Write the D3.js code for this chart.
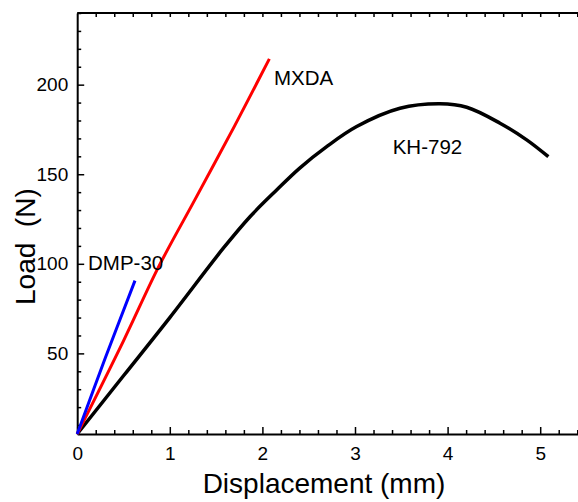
<!DOCTYPE html>
<html>
<head>
<meta charset="utf-8">
<script src="https://cdn.jsdelivr.net/npm/d3@7"></script>
<style>
  body { margin: 0; background: #fff; }
  text { font-family: "Liberation Sans", Arial, sans-serif; fill: #000; }
</style>
</head>
<body>
<div id="main"></div>
<script>
const ctx = {
    w: 578,
    h: 502,
    left: 77.2,
    top: 13,
    bottom: 434,
    pxPerMm: 92.6,
    TICK_FONT: "19px",
    LABEL_FONT: "20.5px",
    TITLE_FONT: "28px",
};

// series: displacement (mm) / load (N)
const kh792X = [0, 0.5, 1.0, 1.578, 1.866, 2.154, 2.40, 2.694, 3.018, 3.486, 3.918, 4.206, 4.566, 4.854, 5.088];
const kh792Y = [5, 37.5, 70, 108.7, 126.3, 141.2, 153.3, 165.4, 176.6, 186.8, 189.3, 187.4, 178.5, 169.2, 159.8];
const mxdaX = [0, 0.5, 0.88, 1.27, 1.7, 2.075];
const mxdaY = [5, 57, 98.4, 135.7, 177, 214.4];
const dmpX = [0, 0.3, 0.624];
const dmpY = [5, 47, 90.6];

const seriesNames = ["KH-792", "MXDA", "DMP-30"];
const seriesColors = ["#000000", "#ff0000", "#0000ff"];

const xTicks = [0, 1, 2, 3, 4, 5];
const yTicks = [50, 100, 150, 200];
const xDomain = [0, 5.45];
const yDomain = [5, 240];

function zipSeries(xs, ys) {
    return xs.map((x, i) => ({ x: x, y: ys[i] }));
}

function createViz() {
    let svgEl = d3.select("#main").append("svg")
        .attr("width", ctx.w)
        .attr("height", ctx.h);

    let x = d3.scaleLinear().domain(xDomain)
        .range([ctx.left, ctx.left + (xDomain[1] - xDomain[0]) * ctx.pxPerMm]);
    let y = d3.scaleLinear().domain(yDomain).range([ctx.bottom, ctx.top]);

    // minor ticks
    svgEl.append("g")
        .attr("transform", `translate(${ctx.left},0)`)
        .call(d3.axisLeft(y).tickValues(d3.range(10, 241, 10).filter(v => v % 50 != 0))
            .tickSize(-4).tickFormat(""))
        .call(g => g.select(".domain").remove());
    svgEl.append("g")
        .attr("transform", `translate(0,${ctx.bottom})`)
        .call(d3.axisBottom(x).tickValues(d3.range(0.2, 5.45, 0.2).filter(v => Math.abs(v - Math.round(v)) > 0.01))
            .tickSize(-4).tickFormat(""))
        .call(g => g.select(".domain").remove());
    svgEl.append("g")
        .attr("transform", `translate(0,${ctx.top})`)
        .call(d3.axisTop(x).tickValues(d3.range(0.2, 5.45, 0.2))
            .tickSize(-4).tickFormat(""))
        .call(g => g.select(".domain").remove());

    // major axes
    let yAxis = svgEl.append("g")
        .attr("transform", `translate(${ctx.left},0)`)
        .call(d3.axisLeft(y).tickValues(yTicks).tickSizeInner(-7).tickSizeOuter(0).tickPadding(9));
    let xAxis = svgEl.append("g")
        .attr("transform", `translate(0,${ctx.bottom})`)
        .call(d3.axisBottom(x).tickValues(xTicks).tickFormat(d3.format("d"))
            .tickSizeInner(-7).tickSizeOuter(0).tickPadding(13));
    [yAxis, xAxis].forEach(function (g) {
        g.selectAll("text").style("font-size", ctx.TICK_FONT)
            .style("font-family", "'Liberation Sans', Arial, sans-serif");
    });
    svgEl.selectAll(".tick line").attr("stroke", "#000").attr("stroke-width", 1.5);
    svgEl.selectAll(".domain").attr("stroke", "#000").attr("stroke-width", 2);

    // top frame line
    svgEl.append("line")
        .attr("x1", ctx.left).attr("x2", x(xDomain[1]))
        .attr("y1", ctx.top).attr("y2", ctx.top)
        .attr("stroke", "#000").attr("stroke-width", 2);

    // curves
    let line = d3.line().x(d => x(d.x)).y(d => y(d.y)).curve(d3.curveCatmullRom.alpha(0.5));
    let allSeries = [zipSeries(kh792X, kh792Y), zipSeries(mxdaX, mxdaY), zipSeries(dmpX, dmpY)];
    let widths = [3.5, 3, 3];
    allSeries.forEach(function (s, i) {
        svgEl.append("path")
            .datum(s)
            .attr("d", line)
            .attr("fill", "none")
            .attr("stroke", seriesColors[i])
            .attr("stroke-width", widths[i]);
    });

    // curve labels
    let labelPos = [[392.7, 154], [274, 85], [88, 270]];
    seriesNames.forEach(function (n, i) {
        svgEl.append("text")
            .attr("x", labelPos[i][0])
            .attr("y", labelPos[i][1])
            .style("font-size", ctx.LABEL_FONT)
            .text(n);
    });

    // axis titles
    svgEl.append("text")
        .attr("x", 324)
        .attr("y", 493)
        .attr("text-anchor", "middle")
        .style("font-size", ctx.TITLE_FONT)
        .text("Displacement (mm)");
    svgEl.append("text")
        .attr("transform", "translate(35,305) rotate(-90)")
        .attr("xml:space", "preserve")
        .style("white-space", "pre")
        .style("font-size", ctx.TITLE_FONT)
        .text("Load  (N)");
};

createViz();
</script>
</body>
</html>
